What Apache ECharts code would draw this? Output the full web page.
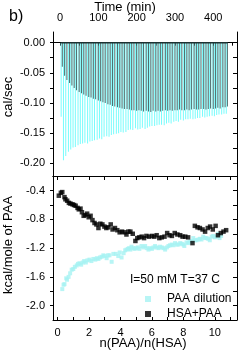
<!DOCTYPE html>
<html><head><meta charset="utf-8">
<script src="https://cdn.jsdelivr.net/npm/echarts@6/dist/echarts.min.js"></script>
<style>html,body{margin:0;padding:0;background:#fff}#c{width:249px;height:353px}</style>
</head><body><div id="c"></div>
<script>
// ---- Top panel: raw ITC thermograms (injection time in min, peak depth in cal/sec)
const timePAA = [3,9,15,22,28,34,40,47,53,59,65,72,78,84,90,97,103,109,115,122,128,134,140,147,153,159,165,172,178,184,190,197,203,209,215,222,228,234,240,247,253,259,265,272,278,284,290,297,303,309,315,322,328,334,340,347,353,359,365,372,378,384,390,397,403,409,415,422,428,434];
const peakPAA = [-0.123,-0.195,-0.188,-0.181,-0.177,-0.174,-0.173,-0.170,-0.168,-0.167,-0.166,-0.167,-0.164,-0.163,-0.162,-0.161,-0.159,-0.160,-0.156,-0.155,-0.156,-0.153,-0.152,-0.151,-0.150,-0.148,-0.149,-0.148,-0.145,-0.144,-0.145,-0.142,-0.144,-0.143,-0.141,-0.143,-0.141,-0.139,-0.138,-0.138,-0.137,-0.136,-0.136,-0.137,-0.134,-0.133,-0.134,-0.131,-0.130,-0.131,-0.128,-0.129,-0.127,-0.127,-0.126,-0.127,-0.126,-0.125,-0.125,-0.123,-0.124,-0.123,-0.122,-0.121,-0.122,-0.120,-0.119,-0.119,-0.118,-0.118];
const timeHSA = [6,12,18,25,31,37,43,50,56,62,68,75,81,87,93,100,106,112,118,125,131,137,143,150,156,162,168,175,181,187,193,200,206,212,218,225,231,237,243,250,256,262,268,275,281,287,293,300,306,312,318,325,331,337,343,350,356,362,368,375,381,387,393,400,406,412,418,425,431,437];
const peakHSA = [-0.040,-0.055,-0.062,-0.067,-0.071,-0.075,-0.079,-0.082,-0.084,-0.086,-0.088,-0.090,-0.091,-0.093,-0.094,-0.096,-0.097,-0.099,-0.100,-0.102,-0.103,-0.105,-0.106,-0.107,-0.108,-0.109,-0.110,-0.110,-0.111,-0.112,-0.112,-0.113,-0.112,-0.113,-0.114,-0.113,-0.114,-0.115,-0.113,-0.114,-0.113,-0.114,-0.113,-0.112,-0.113,-0.112,-0.113,-0.112,-0.112,-0.111,-0.112,-0.112,-0.111,-0.112,-0.111,-0.110,-0.111,-0.111,-0.110,-0.110,-0.111,-0.110,-0.109,-0.110,-0.109,-0.108,-0.109,-0.107,-0.107,-0.106];

// ---- Bottom panel: integrated heats (molar ratio, kcal/mole of PAA)
const ratioPAA = [0.30,0.38,0.44,0.55,0.60,0.70,0.80,0.90,1.00,1.10,1.22,1.30,1.39,1.50,1.60,1.69,1.80,1.90,2.03,2.15,2.28,2.40,2.50,2.60,2.70,2.80,2.91,3.00,3.12,3.20,3.30,3.44,3.55,3.70,3.86,3.95,4.07,4.20,4.30,4.39,4.48,4.55,4.63,4.70,4.80,4.90,5.00,5.10,5.20,5.34,5.45,5.57,5.68,5.78,5.90,6.00,6.10,6.20,6.30,6.42,6.52,6.63,6.73,6.84,6.95,7.05,7.15,7.26,7.37,7.47,7.58,7.68,7.80,7.90,8.00,8.06,8.20,8.30,8.40,8.52,8.63,8.74,8.84,8.95,9.05,9.15,9.26,9.37,9.47,9.58,9.68,9.80,9.90,10.00,10.10,10.20,10.30,10.40];
const heatPAA = [-1.77,-1.71,-1.70,-1.62,-1.64,-1.60,-1.55,-1.50,-1.49,-1.46,-1.44,-1.42,-1.41,-1.43,-1.40,-1.38,-1.40,-1.37,-1.36,-1.38,-1.35,-1.36,-1.34,-1.35,-1.33,-1.32,-1.30,-1.31,-1.34,-1.30,-1.30,-1.39,-1.28,-1.28,-1.31,-1.26,-1.33,-1.27,-1.23,-1.22,-1.21,-1.20,-1.22,-1.18,-1.20,-1.21,-1.20,-1.19,-1.21,-1.17,-1.19,-1.17,-1.20,-1.22,-1.20,-1.21,-1.19,-1.17,-1.19,-1.20,-1.18,-1.19,-1.20,-1.22,-1.19,-1.17,-1.16,-1.15,-1.16,-1.13,-1.15,-1.15,-1.13,-1.14,-1.15,-1.17,-1.12,-1.13,-1.11,-1.10,-1.06,-1.09,-1.09,-1.08,-1.07,-1.08,-1.04,-1.06,-1.06,-1.07,-1.09,-1.04,-1.03,-1.05,-1.04,-1.00,-1.06,-1.03];
const ratioHSA = [0.08,0.21,0.30,0.44,0.50,0.61,0.72,0.82,0.95,1.05,1.15,1.27,1.35,1.46,1.55,1.66,1.77,1.88,1.98,2.10,2.22,2.35,2.47,2.60,2.72,2.85,2.98,3.10,3.22,3.38,3.50,3.65,3.80,3.95,4.10,4.25,4.38,4.50,4.63,4.78,4.95,5.07,5.20,5.35,5.50,5.65,5.82,6.00,6.15,6.30,6.47,6.62,6.80,6.97,7.12,7.27,7.45,7.62,7.80,7.95,8.12,8.30,8.58,8.73,8.90,9.05,9.22,9.38,9.55,9.70,9.87,10.05,10.20,10.38,10.55,10.72];
const heatHSA = [-0.47,-0.43,-0.42,-0.49,-0.52,-0.54,-0.57,-0.58,-0.59,-0.60,-0.61,-0.64,-0.66,-0.65,-0.70,-0.75,-0.74,-0.72,-0.77,-0.75,-0.81,-0.85,-0.87,-0.92,-0.86,-0.87,-0.90,-0.92,-0.91,-0.87,-0.94,-0.92,-0.95,-0.98,-0.97,-0.98,-1.01,-0.97,-0.97,-1.00,-1.10,-1.06,-1.05,-1.04,-1.06,-1.03,-1.04,-1.03,-1.04,-1.02,-1.06,-1.05,-1.04,-0.99,-1.02,-1.03,-0.99,-1.01,-1.02,-1.04,-1.04,-1.05,-1.13,-0.89,-0.91,-0.92,-0.94,-0.97,-0.92,-0.90,-0.94,-0.89,-1.02,-0.99,-0.97,-0.95];

// ---- Tick labels
const timeLabels = [0,100,200,300,400];
const timeTicks = [0,50,100,150,200,250,300,350,400,450];
const calLabels = [0,-0.05,-0.10,-0.15,-0.20];
const calTicks = [0.0,-0.025,-0.05,-0.075,-0.10,-0.125,-0.15,-0.175,-0.20];
const ratioLabels = [0,2,4,6,8,10];
const ratioTicks = [0,1,2,3,4,5,6,7,8,9,10,11];
const kcalLabels = [-0.4,-0.8,-1.2,-1.6,-2.0];
const kcalTicks = [-0.4,-0.6,-0.8,-1.0,-1.2,-1.4,-1.6,-1.8,-2.0];

const FONT = "'Liberation Sans', Arial, sans-serif";
const lineStyle = {color:'#000', width:1};
const lbl = {color:'#000', fontFamily:FONT, fontSize:11};

function zip(a,b){return a.map((v,i)=>[v,b[i]]);}
function nameText(text, x, y, size, rot){
  return {type:'text', x, y, rotation:rot||0,
    style:{text, font:size+'px '+FONT, fill:'#000', align:'center', verticalAlign:'middle'}};
}

const chart = echarts.init(document.getElementById('c'), null, {renderer:'canvas'});
chart.setOption({
  animation:false,
  backgroundColor:'#fff',
  title:[{text:'b)', left:4, top:4, textStyle:{fontFamily:FONT, fontSize:16, fontWeight:'normal', color:'#000'}}],
  graphic:[
    {type:'text', left:130, top:274, style:{text:'I=50 mM T=37 C', font:'12px '+FONT, fill:'#000'}},
    nameText('Time (min)', 125, 7, 13, 0),
    nameText('n(PAA)/n(HSA)', 143, 343, 13, 0),
    nameText('cal/sec', 8, 97, 13, Math.PI/2),
    nameText('kcal/mole of PAA', 8, 245, 13, Math.PI/2)
  ],
  legend:{
    data:['PAA dilution','HSA+PAA'], orient:'vertical', left:140, top:288, itemWidth:6, itemHeight:6, itemGap:3,
    icon:'rect', textStyle:{fontFamily:FONT, fontSize:12, color:'#000', padding:[0,0,0,11]}, selectedMode:false
  },
  grid:[
    {left:53, right:12, top:32, height:144, outerBoundsMode:'none'},
    {left:53, right:12, top:176, height:144, outerBoundsMode:'none'}
  ],
  xAxis:[
    {gridIndex:0, type:'value', position:'top', min:-18.3, max:462,
     axisLine:{show:true, lineStyle}, splitLine:{show:false},
     axisTick:{show:true, inside:true, length:3, lineStyle, customValues:timeTicks},
     axisLabel:{...lbl, margin:9, customValues:timeLabels}},
    {gridIndex:0, type:'value', position:'bottom', min:-18.3, max:462,
     axisLine:{show:true, onZero:false, lineStyle}, splitLine:{show:false}, axisTick:{show:false}, axisLabel:{show:false}},
    {gridIndex:1, type:'value', position:'bottom', min:-0.29, max:11.41,
     axisLine:{show:true, onZero:false, lineStyle}, splitLine:{show:false},
     axisTick:{show:true, inside:true, length:3, lineStyle, customValues:ratioTicks},
     axisLabel:{...lbl, margin:7, customValues:ratioLabels}},
    {gridIndex:1, type:'value', position:'top', min:-0.29, max:11.41,
     axisLine:{show:true, onZero:false, lineStyle}, splitLine:{show:false},
     axisTick:{show:true, inside:true, length:4, lineStyle, customValues:ratioTicks}, axisLabel:{show:false}}
  ],
  yAxis:[
    {gridIndex:0, type:'value', position:'left', min:-0.2211, max:0.0177,
     axisLine:{show:true, onZero:false, lineStyle}, splitLine:{show:false},
     axisTick:{show:true, inside:false, length:3, lineStyle, customValues:calTicks},
     axisLabel:{...lbl, margin:8, customValues:calLabels, formatter:v=>Number(v).toFixed(2)}},
    {gridIndex:0, type:'value', position:'right', min:-0.2211, max:0.0177,
     axisLine:{show:true, onZero:false, lineStyle}, splitLine:{show:false},
     axisTick:{show:true, inside:true, length:4, lineStyle, customValues:calTicks}, axisLabel:{show:false}},
    {gridIndex:1, type:'value', position:'left', min:-2.2, max:-0.196,
     axisLine:{show:true, onZero:false, lineStyle}, splitLine:{show:false},
     axisTick:{show:true, inside:false, length:3, lineStyle, customValues:kcalTicks},
     axisLabel:{...lbl, margin:8, customValues:kcalLabels, formatter:v=>Number(v).toFixed(1)}},
    {gridIndex:1, type:'value', position:'right', min:-2.2, max:-0.196,
     axisLine:{show:true, onZero:false, lineStyle}, splitLine:{show:false},
     axisTick:{show:true, inside:true, length:4, lineStyle, customValues:kcalTicks}, axisLabel:{show:false}}
  ],
  series:[
    {name:'PAA dilution raw', type:'bar', xAxisIndex:0, yAxisIndex:0, barWidth:1, barGap:'-100%',
     itemStyle:{color:'#78fcfc'}, data:zip(timePAA, peakPAA), z:2},
    {name:'HSA+PAA raw', type:'bar', xAxisIndex:0, yAxisIndex:0, barWidth:1, barGap:'-100%',
     itemStyle:{color:'#4f6f6f'}, data:zip(timeHSA, peakHSA), z:3},
    {name:'baseline', type:'line', xAxisIndex:0, yAxisIndex:0, showSymbol:false,
     lineStyle:{color:'#1c3232', width:1.5}, data:[timePAA[0], ...timeHSA].map(t=>[t,0]), z:4},
    {name:'PAA dilution', type:'scatter', xAxisIndex:2, yAxisIndex:2, symbol:'rect', symbolSize:4,
     itemStyle:{color:'#a6f2f2'}, data:zip(ratioPAA, heatPAA), z:2},
    {name:'HSA+PAA', type:'scatter', xAxisIndex:2, yAxisIndex:2, symbol:'rect', symbolSize:4.5,
     itemStyle:{color:'#000'}, data:zip(ratioHSA, heatHSA), z:3}
  ]
});
</script></body></html>
